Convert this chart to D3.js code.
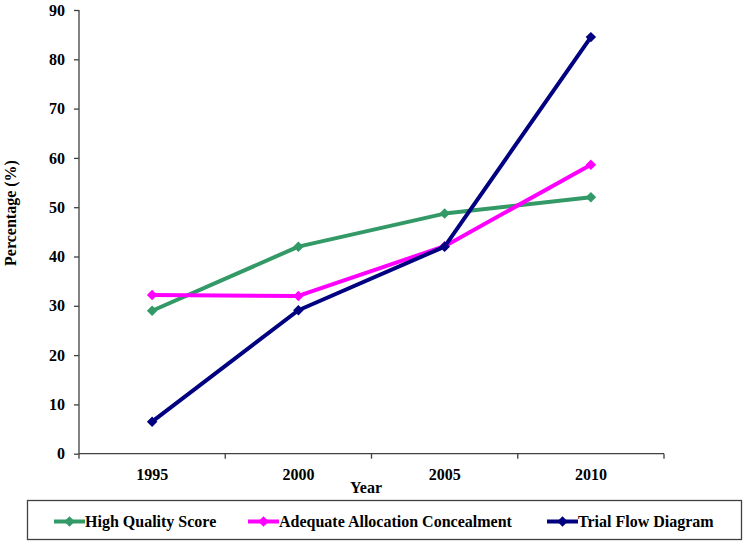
<!DOCTYPE html>
<html><head><meta charset="utf-8">
<script src="https://cdn.jsdelivr.net/npm/d3@7/dist/d3.min.js"></script>
<style>body{margin:0;background:#fff}svg{display:block}</style>
</head><body><svg id="c" width="747" height="546"></svg>
<script>
const years = ["1995","2000","2005","2010"];
const yTicks = [0,10,20,30,40,50,60,70,80,90];
const highQuality = [29, 42, 48.7, 52];
const allocation = [32.2, 32, 42.1, 58.6];
const trialFlow = [6.5, 29.1, 42, 84.5];
const seriesNames = ["High Quality Score","Adequate Allocation Concealment","Trial Flow Diagram"];
const seriesColors = ["#339966","#ff00ff","#000080"];
const FONT = "'Liberation Serif', Tinos, 'Times New Roman', 'DejaVu Serif', serif";

const series = [highQuality, allocation, trialFlow].map((v,i)=>({name:seriesNames[i], color:seriesColors[i], values:v}));

const svg = d3.select("#c");
const x = d3.scaleBand().domain(years).range([79, 664]).padding(0);
const y = d3.scaleLinear().domain([0,90]).range([453.7, 10]);

function styleText(sel){ sel.attr("font-family",FONT).attr("font-weight","bold").attr("font-size",16).attr("fill","#000"); }

// y axis
const ya = svg.append("g").attr("transform","translate(79,0)")
  .call(d3.axisLeft(y).tickValues(yTicks).tickSize(5).tickPadding(9));
ya.attr("font-family",null).attr("font-size",null);
ya.selectAll("path,line").attr("stroke","#404040").attr("stroke-width",1.3);
ya.select(".domain").attr("d","M0,"+y(90)+"V"+y(0));
ya.selectAll("text").call(styleText);

// x axis
const xa = svg.append("g").attr("transform","translate(0,"+y(0)+")")
  .call(d3.axisBottom(x).tickSize(0).tickPadding(15));
xa.attr("font-family",null).attr("font-size",null);
xa.select(".domain").attr("stroke","#404040").attr("stroke-width",1.3).attr("d","M79,0H664");
xa.selectAll("text").call(styleText);
const bounds = years.map(d=>x(d)).concat([x(years[years.length-1])+x.bandwidth()]);
svg.append("g").selectAll("line").data(bounds).join("line")
  .attr("x1",d=>d).attr("x2",d=>d).attr("y1",y(0)).attr("y2",y(0)+5)
  .attr("stroke","#404040").attr("stroke-width",1.3);

// axis titles
svg.append("text").attr("x",366).attr("y",493).attr("text-anchor","middle").call(styleText).text("Year");
svg.append("text").attr("transform","translate(16,213) rotate(-90)").attr("text-anchor","middle").call(styleText).text("Percentage (%)");

// lines
const line = d3.line().x((d,i)=>x(years[i])+x.bandwidth()/2).y(d=>y(d));
const diamond = d3.symbol().type(d3.symbolDiamond2).size(70);
series.forEach(s=>{
  svg.append("path").datum(s.values).attr("d",line).attr("fill","none")
    .attr("stroke",s.color).attr("stroke-width",4).attr("stroke-linejoin","round");
  svg.append("g").selectAll("path").data(s.values).join("path")
    .attr("d",diamond).attr("fill",s.color)
    .attr("transform",(d,i)=>"translate("+(x(years[i])+x.bandwidth()/2)+","+y(d)+")");
});

// legend
svg.append("rect").attr("x",27.5).attr("y",500.5).attr("width",714).attr("height",39)
  .attr("fill","#fff").attr("stroke","#404040").attr("stroke-width",1.3);
const lx = [54, 248, 547];
series.forEach((s,i)=>{
  const g = svg.append("g").attr("transform","translate("+lx[i]+",521.5)");
  g.append("line").attr("x1",0).attr("x2",31).attr("stroke",s.color).attr("stroke-width",4);
  g.append("path").attr("d",diamond).attr("transform","translate(15.5,0)").attr("fill",s.color);
  g.append("text").attr("x",31).attr("y",5.5).call(styleText).text(s.name);
});
</script></body></html>
